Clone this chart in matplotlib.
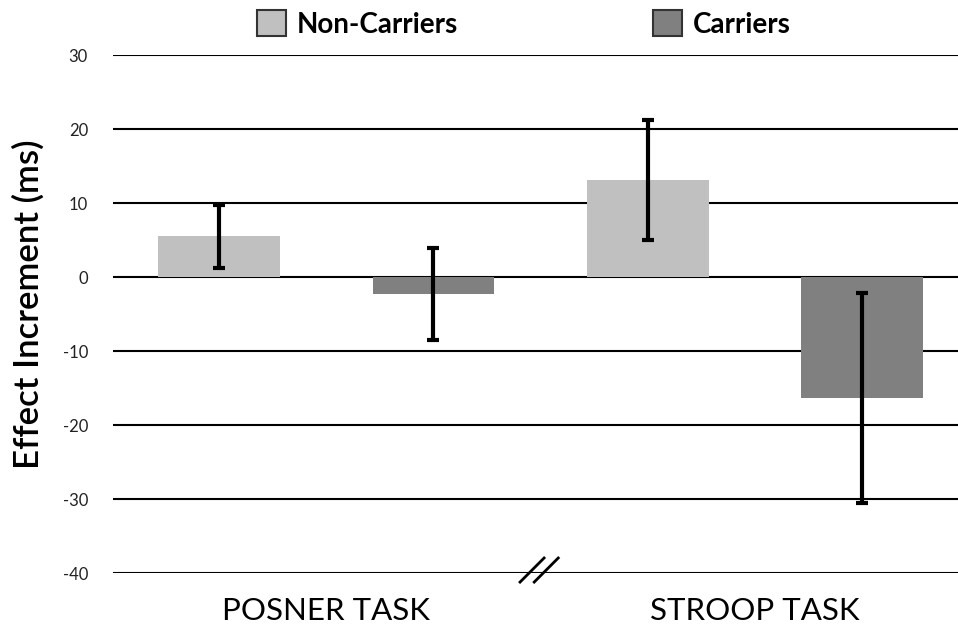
import matplotlib
matplotlib.use("Agg")
import matplotlib.pyplot as plt
from matplotlib.patches import Patch

tasks = ["POSNER TASK", "STROOP TASK"]
groups = ["Non-Carriers", "Carriers"]
non_carriers = [5.5, 13.1]
non_carriers_err = [4.25, 8.1]
carriers = [-2.3, -16.4]
carriers_err = [6.2, 14.2]
yticks = [-40, -30, -20, -10, 0, 10, 20, 30]

colors = ["#c0c0c0", "#808080"]
plt.rcParams['font.family'] = ['Lato', 'DejaVu Sans']

fig = plt.figure(figsize=(9.58, 6.27), dpi=100)
ax = fig.add_axes([113/958, 1-573/627, 1-113/958, (573-55)/627])

off = 0.25
w = 0.284
x = list(range(len(tasks)))
for xs, vals, errs, c in [([i - off for i in x], non_carriers, non_carriers_err, colors[0]),
                          ([i + off for i in x], carriers, carriers_err, colors[1])]:
    ax.bar(xs, vals, width=w, color=c, zorder=2)
    ax.errorbar(xs, vals, yerr=errs, fmt='none', ecolor='black', elinewidth=3,
                capsize=4.5, capthick=3, zorder=3)

for t in yticks:
    ax.axhline(t, color='black', lw=1.5, zorder=1)

ax.set_ylim(-40, 30)
ax.set_xlim(-0.497, 1.473)
ax.set_yticks(yticks)
ax.set_yticklabels([str(t) for t in yticks], fontsize=12, color='#222222')
ax.set_xticks(x)
ax.set_xticklabels(tasks, fontsize=22.5)
ax.tick_params(axis='both', length=0)
ax.tick_params(axis='y', pad=18)
ax.tick_params(axis='x', pad=17)
for s in ax.spines.values():
    s.set_visible(False)

# axis break marks
for cx in (0.480, 0.513):
    ax.plot([cx - 0.0303, cx + 0.0303], [-39.6 - 1.76, -39.6 + 1.76], color='black',
            lw=2, clip_on=False, zorder=4, solid_capstyle='butt')

fig.text(28/958, 1-304/627, "Effect Increment (ms)", rotation=90, fontsize=25,
         fontweight='semibold', ha='center', va='center')

handles = [Patch(facecolor=colors[0], edgecolor='#333333', lw=1.5),
           Patch(facecolor=colors[1], edgecolor='#333333', lw=1.5)]
fig.legend(handles, groups, loc='center', bbox_to_anchor=(524/958, 1-24/627), ncol=2,
           frameon=False, prop={'weight': 'bold', 'size': 20}, handlelength=1.05,
           handleheight=1.05, handletextpad=0.4, columnspacing=7.0)

fig.savefig("out.png", dpi=100)
